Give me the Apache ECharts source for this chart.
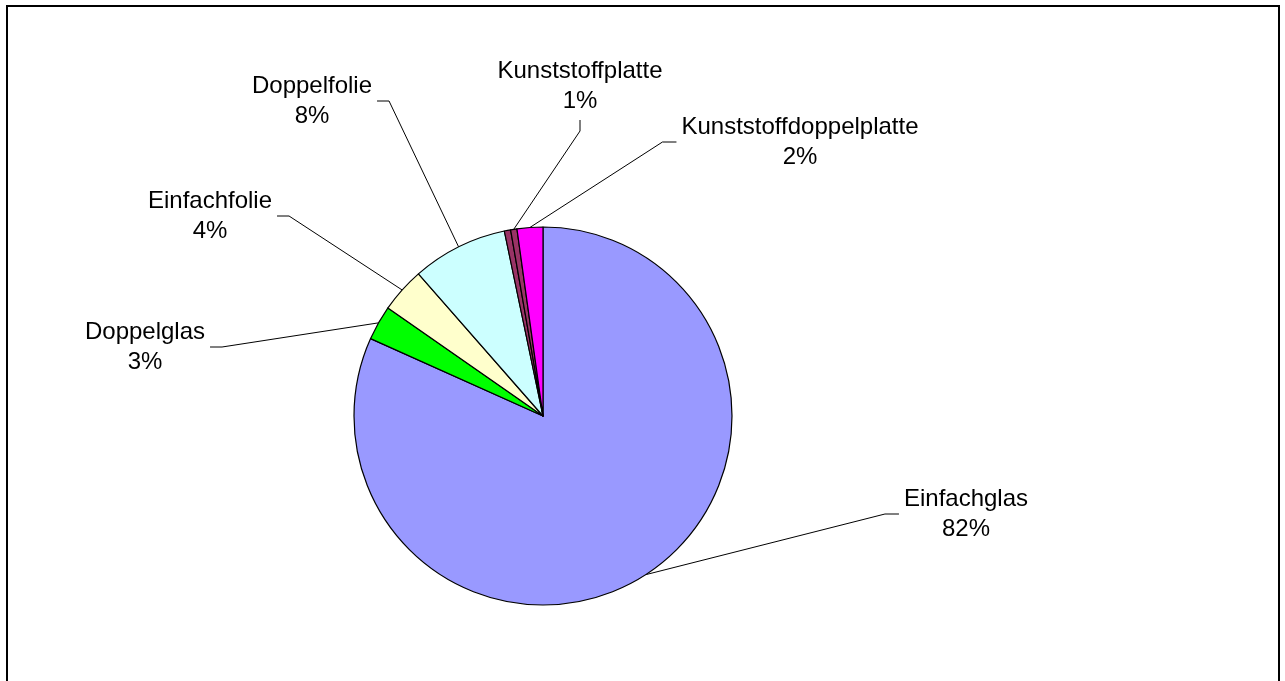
<!DOCTYPE html>
<html>
<head>
<meta charset="utf-8">
<script src="https://cdn.jsdelivr.net/npm/echarts@6/dist/echarts.min.js"></script>
<style>
  html, body { margin: 0; padding: 0; background: #fff; }
  #chart { width: 1285px; height: 681px; }
</style>
</head>
<body>
<div id="chart"></div>
<script>
// Anteile der Verglasungsarten (in %), im Uhrzeigersinn ab 12 Uhr
const names = ['Einfachglas', 'Doppelglas', 'Einfachfolie', 'Doppelfolie', '', 'Kunststoffplatte', 'Kunststoffdoppelplatte'];
const values = [81.7, 2.97, 3.86, 8.17, 0.54, 0.54, 2.2];
const colors = ['#9999FF', '#00FF00', '#FFFFCC', '#CCFFFF', '#993366', '#993366', '#FF00FF'];

// Beschriftungsmitte + Seite, an der die Führungslinie ansetzt
const labelPos = [
  [966, 514, 'left'],
  [145, 347, 'right'],
  [210, 216, 'right'],
  [312, 101, 'right'],
  null,
  [580, 86, 'bottom'],
  [800, 142, 'left']
];

const chart = echarts.init(document.getElementById('chart'));

const data = names.map((n, i) => ({
  name: n,
  value: values[i],
  itemStyle: { color: colors[i] },
  label: { show: n !== '' },
  labelLine: { show: n !== '' }
}));

const option = {
  backgroundColor: '#fff',
  animation: false,
  graphic: [{
    type: 'rect',
    silent: true,
    shape: { x: 7, y: 6, width: 1272, height: 700 },
    style: { fill: 'none', stroke: '#000', lineWidth: 2 }
  }],
  series: [{
    type: 'pie',
    center: [543, 416],
    radius: 189,
    startAngle: 90,
    clockwise: true,
    avoidLabelOverlap: false,
    minShowLabelAngle: 0,
    itemStyle: { borderColor: '#000', borderWidth: 1.2 },
    emphasis: { disabled: true },
    label: {
      position: 'outside',
      color: '#000',
      fontFamily: 'Liberation Sans, Arial, sans-serif',
      fontSize: 24,
      lineHeight: 30,
      formatter: p => p.name + '\n' + Math.round(p.percent) + '%'
    },
    labelLine: {
      length: 10,
      length2: 10,
      lineStyle: { color: '#000', width: 1 }
    },
    labelLayout: function (p) {
      const lp = labelPos[p.dataIndex];
      if (!lp || !p.labelLinePoints) return {};
      const [cx, cy, side] = lp;
      const w = p.labelRect.width, h = p.labelRect.height;
      let end, bend;
      if (side === 'left') {
        end = [cx - w / 2 - 5, cy];
        bend = [end[0] - 14, cy];
      } else if (side === 'right') {
        end = [cx + w / 2 + 5, cy];
        bend = [end[0] + 12, cy];
      } else {
        end = [cx, cy + h / 2 + 4];
        bend = [cx, end[1] + 11];
      }
      return {
        x: cx,
        y: cy,
        align: 'center',
        verticalAlign: 'middle',
        labelLinePoints: [p.labelLinePoints[0], bend, end]
      };
    },
    data: data
  }]
};

chart.setOption(option);
</script>
</body>
</html>
